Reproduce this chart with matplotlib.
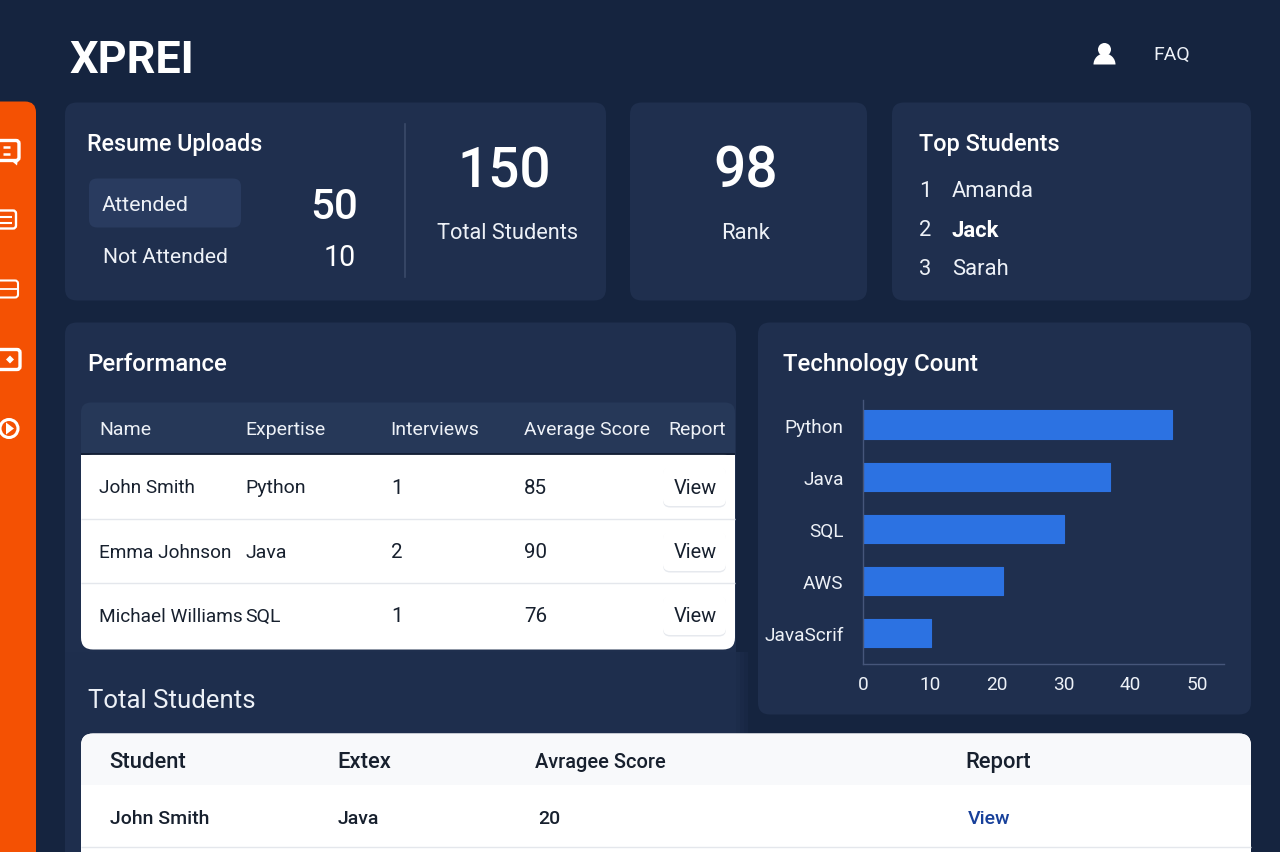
import matplotlib
matplotlib.use("Agg")
import matplotlib.pyplot as plt
from matplotlib.patches import FancyBboxPatch, Rectangle, Circle, Wedge, Polygon

plt.rcParams['font.family'] = ['Roboto', 'DejaVu Sans']

BG = '#15243F'; CARD = '#1F2F4E'; HILITE = '#293B5F'; THEAD = '#263858'
ORANGE = '#F45103'; BAR = '#2C72E2'; WHITE = '#FFFFFF'; INK = '#17202E'; LINE = '#E4E7EC'
MUTED = '#EDF1F7'; PANEL = '#1E2E4D'

tech_names = ['Python', 'Java', 'SQL', 'AWS', 'JavaScrif']
tech_counts = [46.2, 36.9, 30, 21, 10.2]
tech_ticks = [0, 10, 20, 30, 40, 50]

perf_header = ['Name', 'Expertise', 'Interviews', 'Average Score', 'Report']
perf_names = ['John Smith', 'Emma Johnson', 'Michael Williams']
perf_expertise = ['Python', 'Java', 'SQL']
perf_interviews = [1, 2, 1]
perf_scores = [85, 90, 76]

total_header = ['Student', 'Extex', 'Avragee Score', 'Report']
total_row = ['John Smith', 'Java', '20', 'View']

top_students = ['Amanda', 'Jack', 'Sarah']

fig = plt.figure(figsize=(12.8, 8.53), dpi=100, facecolor=BG)
ui = fig.add_axes([0, 0, 1, 1])
ui.set_xlim(0, 1280); ui.set_ylim(852.5, -0.5); ui.axis('off')

def box(x0, y0, x1, y1, color, r=12, z=1, **kw):
    p = FancyBboxPatch((x0 + r, y0 + r), x1 - x0 - 2 * r, y1 - y0 - 2 * r,
                       boxstyle=f'round,pad={r},rounding_size={r}',
                       fc=color, ec='none', zorder=z, **kw)
    ui.add_patch(p)
    return p

def txt(x, y, s, px, color=WHITE, weight='normal', ha='left'):
    ui.text(x, y - 1.5, s, fontsize=px * 0.72, color=color, fontweight=weight,
            ha=ha, va='center_baseline', zorder=6)

def hline(x0, x1, y, color, lw=1, z=4):
    ui.plot([x0, x1], [y, y], color=color, lw=lw, zorder=z, solid_capstyle='butt')

# sidebar
box(-30, 102, 36, 900, ORANGE, r=11)
# icons
def rrect(x0, y0, x1, y1, lw=2.2, r=3):
    p = FancyBboxPatch((x0 + r, y0 + r), x1 - x0 - 2 * r, y1 - y0 - 2 * r,
                       boxstyle=f'round,pad={r},rounding_size={r}', fc='none', ec=WHITE, lw=lw, zorder=5)
    ui.add_patch(p)
rrect(-6, 141, 19, 161, lw=2.4)
ui.add_patch(Polygon([[10, 160], [18, 160], [17, 166]], fc=WHITE, zorder=5))
hline(3, 10, 147, WHITE, 1.8, 5)
hline(3, 10, 154, WHITE, 1.8, 5)
rrect(-6, 211, 16, 229, lw=1.7)
for yy in (217, 223):
    hline(0, 12, yy, WHITE, 1.5, 5)
rrect(-6, 281, 18, 298, lw=1.5)
hline(-6, 18, 289, WHITE, 1.3, 5)
rrect(-6, 350, 20, 370, lw=2.4)
ui.add_patch(Polygon([[10, 356], [14, 360], [10, 364], [6, 360]], fc=WHITE, zorder=5))
ui.add_patch(Circle((9, 429), 9, fc='none', ec=WHITE, lw=2.2, zorder=5))
ui.add_patch(Polygon([[6, 423], [14, 429], [6, 435]], fc=WHITE, zorder=5))

# header
txt(69, 57, 'XPREI', 45, weight='bold')
ui.add_patch(Circle((1104.5, 50), 6.5, fc=WHITE, ec='none', zorder=5))
ui.add_patch(Wedge((1104.5, 65), 11, 180, 360, fc=WHITE, ec='none', zorder=5))
txt(1153, 54, 'FAQ', 19.5, color=MUTED)

# cards
box(65, 103, 606, 301, CARD)
box(630, 103, 867, 301, CARD)
box(892, 103, 1251, 301, CARD)
box(65, 323, 736, 700, CARD)
ui.add_patch(Rectangle((65, 652), 671, 210, fc=PANEL, ec='none', zorder=1.1))
for x0, col in zip([736, 740, 744], ['#1C2C4A', '#1A2947', '#182744']):
    ui.add_patch(Rectangle((x0, 652), 4, 210, fc=col, ec='none', zorder=0.5))
box(758, 323, 1251, 715, CARD)

# resume uploads
txt(87, 143, 'Resume Uploads', 23.3, weight='medium')
box(89, 179, 241, 228, HILITE, r=8, z=2)
txt(102, 204, 'Attended', 21.5, color=MUTED)
txt(103, 256, 'Not Attended', 21.2, color=MUTED)
txt(334, 204, '50', 42, weight='medium', ha='center')
txt(340, 256, '10', 28.5, ha='center')
ui.plot([405, 405], [124, 277], color='#3A4A69', lw=1.2, zorder=3)
txt(504, 167, '150', 55, weight='medium', ha='center')
txt(507.5, 232, 'Total Students', 21.8, color=MUTED, ha='center')
txt(746, 167, '98', 57, weight='medium', ha='center')
txt(746, 232, 'Rank', 22, color=MUTED, ha='center')

# top students
txt(919, 143, 'Top Students', 23.5, weight='medium')
for i, (name, y) in enumerate(zip(top_students, [190, 229, 268])):
    txt(919, y, str(i + 1), 22, color=MUTED)
    txt(952, y, name, 22, weight='bold' if name == 'Jack' else 'normal', color=WHITE if name == 'Jack' else MUTED)

# performance table
txt(87, 363, 'Performance', 24, weight='medium')
box(81, 403, 735, 470, THEAD, r=10, z=2)
for x, s in zip([99, 245, 390, 524, 668], perf_header):
    txt(x, 429, s, 19.5, color=MUTED)
box(81, 455, 735, 650, WHITE, r=12, z=3)
ui.add_patch(Rectangle((81, 455), 654, 20, fc=WHITE, ec='none', zorder=3))
hline(81, 735, 454.5, '#101B30', 1.2)
row_y = [487, 552, 616]
for y in [519.5, 583.5]:
    hline(81, 735, y, LINE, 1)
for y, n, e, iv, sc in zip(row_y, perf_names, perf_expertise, perf_interviews, perf_scores):
    txt(99, y, n, 19, color=INK)
    txt(245, y, e, 19.5, color=INK)
    txt(391, y, str(iv), 20.5, color=INK)
    txt(524, y, str(sc), 20.5, color=INK)
    box(663, y - 19, 726, y + 21, '#E6E9EE', r=7, z=4)
    box(663, y - 20, 726, y + 19.5, WHITE, r=7, z=4.1)
    txt(695, y, 'View', 20, color=INK, ha='center')

# total students
txt(88, 700, 'Total Students', 25.8, color=MUTED)
box(81, 734, 1251, 900, WHITE, r=12, z=2)
box(81, 734, 1251, 800, '#F8F9FB', r=12, z=2)
ui.add_patch(Rectangle((81, 785), 1170, 80, fc=WHITE, ec='none', zorder=3))
header_px = [22, 22, 20, 22]
for x, s, px in zip([109, 337, 535, 965], total_header, header_px):
    txt(x, 761, s, px, color=INK, weight='medium')
for x, s in zip([110, 338, 538], total_row[:3]):
    txt(x, 818, s, 19.5, color=INK, weight='medium')
txt(968, 818, total_row[3], 19.5, color='#17409A', weight='medium')
hline(81, 1251, 847.5, LINE, 1)

# technology count
txt(783, 363, 'Technology Count', 24, weight='medium')
W, H = 1280, 853
ax = fig.add_axes([863 / W, 1 - 664.5 / H, (1224 - 863) / W, (664 - 400) / H])
ax.patch.set_alpha(0)
positions = list(range(len(tech_names)))
ax.barh(positions, tech_counts, height=0.54, color=BAR, edgecolor=BAR, linewidth=0.8, joinstyle='round')
ax.set_yticks(positions, tech_names)
ax.set_xticks(tech_ticks)
ax.set_xlim(0, 54)
ax.set_ylim(4.58, -0.48)
for s in ('top', 'right'):
    ax.spines[s].set_visible(False)
for s in ('left', 'bottom'):
    ax.spines[s].set_color('#46567A'); ax.spines[s].set_linewidth(1)
ax.tick_params(axis='both', length=0, labelcolor=MUTED, labelsize=19 * 0.72)
ax.tick_params(axis='y', pad=14)
ax.tick_params(axis='x', pad=8.5)
for label in ax.get_yticklabels():
    label.set_va('center_baseline')

fig.savefig('out.png', dpi=100, facecolor=BG)
